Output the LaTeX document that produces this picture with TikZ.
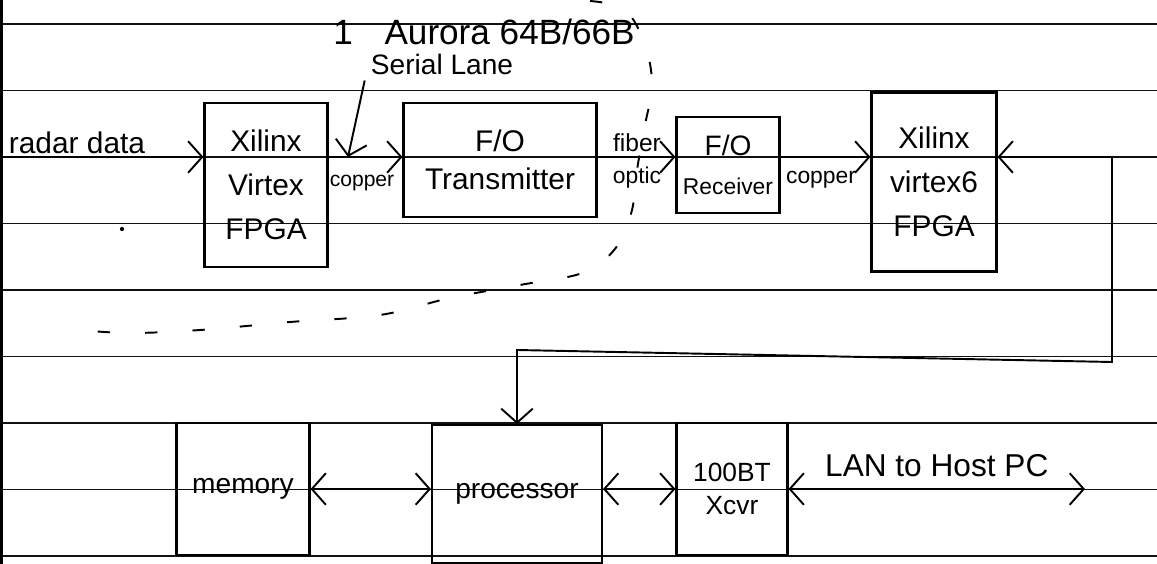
\documentclass[tikz,border=0pt]{standalone}
\usepackage{fontspec}
\setmainfont{Liberation Sans}
\usetikzlibrary{arrows.meta}

\begin{document}
\begin{tikzpicture}[x=0.02cm, y=-0.02cm,
    >={Straight Barb[length=8pt,width=18pt]},
    box/.style={draw=inkColour, line width=1.2pt, align=center, inner sep=0pt, font=\fontsize{17}{25}\selectfont},
    wire/.style={draw=inkColour, line width=1.1pt},
    lbl/.style={font=\fontsize{12}{14}\selectfont}]
    % Define colours
    \definecolor{inkColour}{HTML}{000000}
    \definecolor{ruleColour}{HTML}{111111}

    % Define page size and rule spacing
    \def\pageW{1157}
    \def\pageH{564}
    \def\ruleGap{66.5}

    \useasboundingbox (0,0) rectangle (\pageW,\pageH);

    % Draw ruled lines of the page
    \foreach \k in {0,...,8}
        \draw[ruleColour, line width=1pt] (0,24+\ruleGap*\k) -- (\pageW,24+\ruleGap*\k);
    \fill[inkColour] (0,0) rectangle (3,\pageH);
    \fill[inkColour] (122,229) circle (1.2pt);

    % Rows the connectors run on
    \coordinate (row1) at (0,157);
    \coordinate (row2) at (0,489);

    % Top chain of boxes
    \node[box, minimum width=2.46cm, minimum height=3.28cm] (fpgaA) at (266,185) {Xilinx\\Virtex\\FPGA};
    \node[box, minimum width=3.86cm, minimum height=2.28cm, font=\fontsize{17}{22}\selectfont] (tx) at (500,160) {F/O\\Transmitter};
    \node[box, minimum width=2.06cm, minimum height=1.92cm, font=\fontsize{13}{22}\selectfont] (rx) at (728,165) {{\fontsize{16}{16}\selectfont F/O}\\Receiver};
    \node[box, minimum width=2.5cm, minimum height=3.58cm] (fpgaB) at (934,182) {Xilinx\\virtex6\\FPGA};

    % Bottom chain of boxes
    \node[box, minimum width=2.66cm, minimum height=2.64cm, font=\fontsize{16}{20}\selectfont] (mem) at (243,489) {memory};
    \node[box, minimum width=3.4cm, minimum height=2.76cm, font=\fontsize{16}{20}\selectfont] (proc) at (517,494) {processor};
    \node[box, minimum width=2.22cm, minimum height=2.64cm, font=\fontsize{15}{19}\selectfont] (xcvr) at (732,489) {100BT\\Xcvr};

    % Input and top connectors
    \coordinate (radar) at (3,157);
    \draw[wire,->] (radar) -- (fpgaA.west |- row1);
    \node[font=\fontsize{17}{20}\selectfont] (radarLbl) at (77,143) {radar data};

    \draw[wire,->] (fpgaA.east |- row1) -- (tx.west |- row1);
    \node[lbl] (cuA) at (362,183) {copper};

    \draw[wire,->] (tx.east |- row1) -- (rx.west |- row1);
    \node[font=\fontsize{14}{16}\selectfont] (fiber) at (637,143) {fiber};
    \node[font=\fontsize{13}{15}\selectfont] (optic) at (637,178) {optic};

    \draw[wire,->] (rx.east |- row1) -- (fpgaB.west |- row1);
    \node[font=\fontsize{13}{15}\selectfont] (cuB) at (821,180) {copper};

    % Link from the second FPGA down to the processor
    \coordinate (turn) at (1112,362);
    \draw[wire,<->] (fpgaB.east |- row1) -- (turn |- row1) -- (turn) -- (proc.north |- 0,350) -- (proc.north);

    % Bottom connectors
    \draw[wire,<->] (mem.east |- row2) -- (proc.west |- row2);
    \draw[wire,<->] (proc.east |- row2) -- (xcvr.west |- row2);
    \coordinate (host) at (1085,489);
    \draw[wire,<->] (xcvr.east |- row2) -- (host)
        node[midway, above=3pt, font=\fontsize{18}{20}\selectfont] (lan) {LAN to Host PC};

    % Serial lane note
    \node[font=\fontsize{20}{22}\selectfont] (aurora) at (484,32) {1\hspace{0.9em}Aurora 64B/66B};
    \node[font=\fontsize{16}{18}\selectfont] (serial) at (442,64) {Serial Lane};
    \coordinate (tap) at (348,157);
    \draw[wire,->] (serial.south west) -- (tap);

    % Dashed boundary
    \draw[wire, dash pattern=on 7pt off 20pt] plot[smooth, tension=0.6] coordinates
        {(590,1) (625,10) (645,45) (652,85) (645,125) (637,170) (632,210) (618,245)
         (585,272) (520,285) (450,298) (380,315) (290,322) (200,330) (130,333) (80,330)};
\end{tikzpicture}
\end{document}
